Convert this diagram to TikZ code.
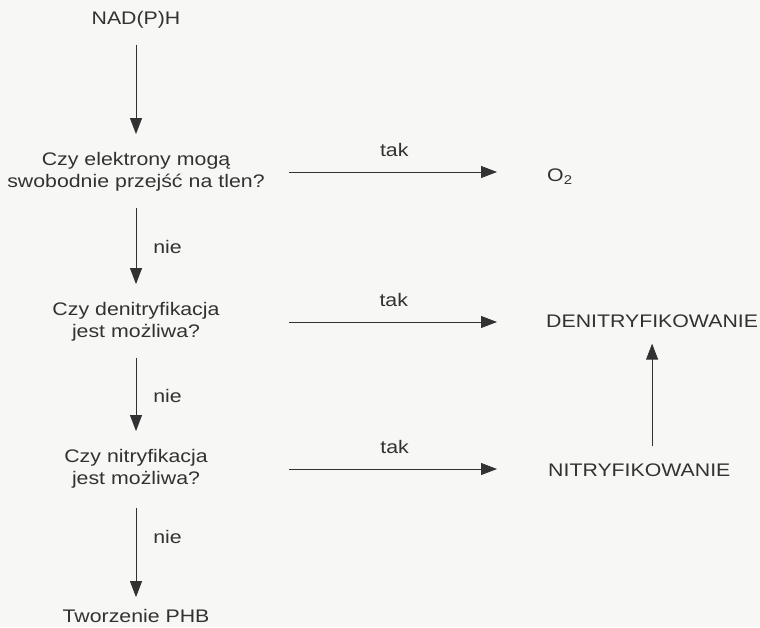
\documentclass[tikz,border=0pt]{standalone}
\usepackage{fontspec}
\setmainfont{Liberation Sans}[FakeStretch=1.17]
\usetikzlibrary{positioning}
\usetikzlibrary{arrows.meta}
\definecolor{ink}{RGB}{50,50,50}
\definecolor{paper}{RGB}{247,247,245}

\begin{document}
\begin{tikzpicture}[
    x=1pt, y=-1pt,
    every node/.style={inner sep=0pt, text=ink, font=\fontsize{18.2}{22.5}\selectfont},
    question/.style={text width=266pt, align=center},
    result/.style={anchor=west},
    arr/.style={-{Triangle[length=16pt, width=12pt]}, draw=ink, line width=0.8pt,
        shorten <=16pt, shorten >=18pt},
    side/.style={right=17pt},
    over/.style={above=15pt}
]
    \fill[paper] (0,0) rectangle (760,627);
    \useasboundingbox (0,0) rectangle (760,627);

    \node (nadph) at (136, 20) {NAD(P)H};
    \node[question] (q1) at (136, 172) {Czy elektrony mogą\\swobodnie przejść na tlen?};
    \node[question] (q2) at (136, 322) {Czy denitryfikacja\\jest możliwa?};
    \node[question] (q3) at (136, 469) {Czy nitryfikacja\\jest możliwa?};
    \node (phb) at (136, 616) {Tworzenie PHB};

    \node[result] (o2) at (547, 177) {O\textsubscript{2}};
    \node[result] (denit) at (546, 321) {DENITRYFIKOWANIE};
    \node[result] (nitr) at (548, 470) {NITRYFIKOWANIE};

    \draw[arr] (nadph) -- (q1);
    \draw[arr] (q1) -- node[side] {nie} (q2);
    \draw[arr] (q2) -- node[side] {nie} (q3);
    \draw[arr, shorten <=19pt, shorten >=12pt] (q3) -- node[side, pos=0.4] {nie} (phb);

    \draw[arr, shorten <=20pt, shorten >=50pt] (q1.east) -- node[over, pos=0.45] {tak} (q1.east -| o2.west);
    \draw[arr, shorten <=20pt, shorten >=49pt] (q2.east) -- node[over, pos=0.45] {tak} (q2.east -| denit.west);
    \draw[arr, shorten <=20pt, shorten >=51pt] (q3.east) -- node[over, pos=0.45] {tak} (q3.east -| nitr.west);

    \draw[arr, shorten <=17pt, shorten >=16pt] (nitr.north -| denit.south) -- (denit.south);
\end{tikzpicture}
\end{document}
